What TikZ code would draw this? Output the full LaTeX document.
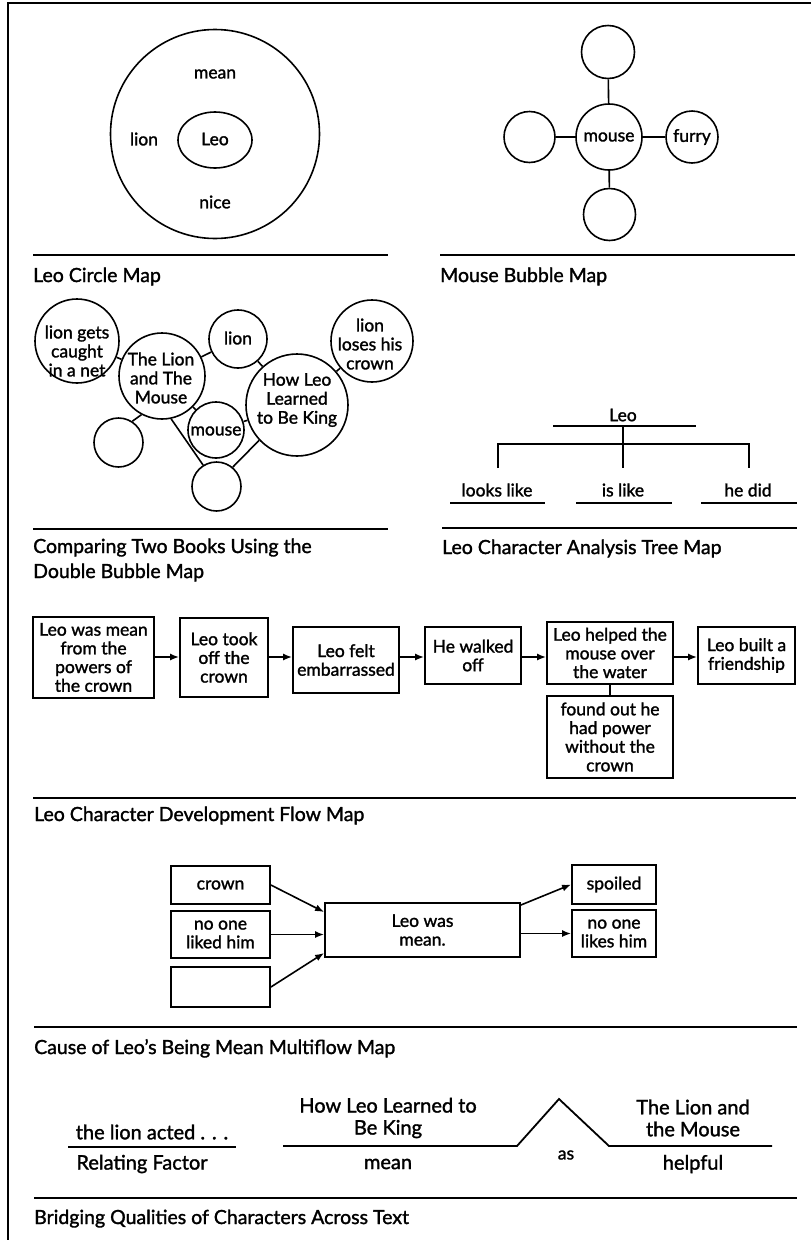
\documentclass[tikz,border=0pt]{standalone}
\usepackage{fontspec}
\setmainfont{Lato}[FakeBold=1.5]
\usetikzlibrary{arrows.meta,shapes.geometric}
\begin{document}
\begin{tikzpicture}[x=1pt,y=-1pt,
  txt/.style={font=\fontsize{17.5}{19}\selectfont, align=center, inner sep=0pt},
  btxt/.style={font=\fontsize{20}{22}\selectfont, align=center, inner sep=0pt},
  ttl/.style={font=\fontsize{19.5}{25}\selectfont, inner sep=0pt, anchor=base west},
  bub/.style={circle, draw, line width=1.6pt, inner sep=0pt},
  fbox/.style={rectangle, draw, line width=1.8pt, inner sep=0pt, align=center, font=\fontsize{17.5}{18.7}\selectfont},
  rule/.style={line width=2.2pt},
  con/.style={line width=1.6pt},
  tline/.style={line width=1.8pt},
  arr/.style={line width=1.6pt, -{Latex[length=9pt,width=7pt]}},
]
\useasboundingbox (0,0) rectangle (811,1240);
% frame
\draw[line width=2.2pt] (8,1240) -- (8,3) -- (811,3);

% ---------- Leo Circle Map ----------
\node[bub, minimum size=209pt] (outer) at (215,134) {};
\node[ellipse, draw, line width=1.6pt, inner sep=0pt, minimum width=74pt, minimum height=56pt] (inner) at (215,140) {};
\node[txt] (leot) at (215,139) {Leo};
\node[txt] (meant) at (215,74) {mean};
\node[txt] (liont) at (144,139) {lion};
\node[txt] (nicet) at (215,202) {nice};
\draw[rule] (33,255) -- (388,255);
\node[ttl] (ttl1) at (33,282) {Leo Circle Map};

% ---------- Mouse Bubble Map ----------
\node[bub, minimum size=66pt] (mouse) at (609,137) {};
\node[txt] (mouset) at (609,137) {mouse};
\node[bub, minimum size=53pt] (mtop) at (608,52) {};
\node[bub, minimum size=52pt] (mbot) at (609.5,214.5) {};
\node[bub, minimum size=51pt] (mleft) at (529.5,137) {};
\node[bub, minimum size=52pt] (furry) at (692,137) {};
\node[txt] (furryt) at (692,137) {furry};
\draw[con] (mouse) -- (mtop);
\draw[con] (mouse) -- (mbot);
\draw[con] (mouse) -- (mleft);
\draw[con] (mouse) -- (furry);
\draw[rule] (440,255) -- (795,255);
\node[ttl] (ttl2) at (440,282) {Mouse Bubble Map};

% ---------- Double Bubble Map ----------
\node[bub, minimum size=84pt] (caught) at (77,341) {};
\node[txt] (caughtt) at (77,351) {lion gets\\caught\\in a net};
\node[bub, minimum size=86pt] (lm) at (162,376) {};
\node[txt] (lmt) at (161,378) {The Lion\\and The\\Mouse};
\node[bub, minimum size=58pt] (lion) at (238,339) {};
\node[txt] (liont2) at (238,338) {lion};
\node[bub, minimum size=82pt] (loses) at (372,341) {};
\node[txt] (losest) at (370,344) {lion\\loses his\\crown};
\node[bub, minimum size=102pt] (how) at (297,405) {};
\node[txt] (howt) at (297,400) {How Leo\\Learned\\to Be King};
\node[bub, minimum size=56pt] (dmouse) at (216,430) {};
\node[txt] (dmouset) at (216,431) {mouse};
\node[bub, minimum size=49pt] (e1) at (118.5,442.5) {};
\node[bub, minimum size=49pt] (e2) at (216.5,486.5) {};
\draw[con] (caught) -- (lm);
\draw[con] (lm) -- (lion);
\draw[con] (lion) -- (how);
\draw[con] (how) -- (loses);
\draw[con] (lm) -- (dmouse);
\draw[con] (dmouse) -- (how);
\draw[con] (lm.-118) -- (e1.57);
\draw[con] (lm.-78) -- (e2.122);
\draw[con] (how.223) -- (e2.50);
\draw[rule] (33,529) -- (388,529);
\node[ttl] (ttl3a) at (33,553) {Comparing Two Books Using the};
\node[ttl] (ttl3b) at (33,578) {Double Bubble Map};

% ---------- Tree Map ----------
\node[txt] (tleo) at (623,415) {Leo};
\coordinate (tl1) at (553,426);
\coordinate (tl2) at (696,426);
\coordinate (tm) at (623,426);
\coordinate (tmb) at (623,468);
\coordinate (tbl) at (498,444);
\coordinate (tbr) at (749,444);
\draw[tline] (tl1) -- (tl2);
\draw[tline] (tm) -- (tmb);
\draw[tline] (498,468) -- (tbl) -- (tbr) -- (749,468);
\node[txt] (tlook) at (497,490) {looks like};
\node[txt] (tis) at (623,490) {is like};
\node[txt] (tdid) at (748,490) {he did};
\draw[tline] (450,503) -- (545,503);
\draw[tline] (576,503) -- (672,503);
\draw[tline] (701,503) -- (797,503);
\draw[rule] (442,528) -- (797,528);
\node[ttl] (ttl4) at (442,554) {Leo Character Analysis Tree Map};

% ---------- Flow Map ----------
\node[fbox, minimum width=121pt, minimum height=81pt] (f1) at (93.5,657.5) {Leo was mean\\from the\\powers of\\the crown};
\node[fbox, minimum width=88pt, minimum height=79pt] (f2) at (224,657.5) {Leo took\\off the\\crown};
\node[fbox, minimum width=106pt, minimum height=66pt] (f3) at (346,660) {Leo felt\\embarrassed};
\node[fbox, minimum width=96pt, minimum height=57pt] (f4) at (473,655.5) {He walked\\off};
\node[fbox, minimum width=126pt, minimum height=62pt] (f5) at (610,653) {Leo helped the\\mouse over\\the water};
\node[fbox, minimum width=97pt, minimum height=57pt] (f6) at (746.5,655.5) {Leo built a\\friendship};
\node[fbox, minimum width=126pt, minimum height=82pt] (f7) at (610,737) {found out he\\had power\\without the\\crown};
\coordinate (fy) at (0,657);
\draw[arr] (f1.east |- fy) -- (f2.west |- fy);
\draw[arr] (f2.east |- fy) -- (f3.west |- fy);
\draw[arr] (f3.east |- fy) -- (f4.west |- fy);
\draw[arr] (f4.east |- fy) -- (f5.west |- fy);
\draw[arr] (f5.east |- fy) -- (f6.west |- fy);
\draw[line width=1.8pt] (f5.south) -- (f7.north);
\draw[rule] (33,798) -- (796,798);
\node[ttl] (ttl5) at (34,821) {Leo Character Development Flow Map};

% ---------- Multiflow Map ----------
\node[fbox, minimum width=99pt, minimum height=38pt] (crown) at (220.5,885) {crown};
\node[fbox, minimum width=99pt, minimum height=47pt] (noone) at (220.5,934.5) {no one\\liked him};
\node[fbox, minimum width=99pt, minimum height=40pt] (empty) at (220.5,987) {};
\node[fbox, minimum width=195pt, minimum height=54pt] (mean) at (422.5,930) {Leo was\\mean.};
\node[fbox, minimum width=84pt, minimum height=39pt] (spoiled) at (614,884.5) {spoiled};
\node[fbox, minimum width=84pt, minimum height=47pt] (likes) at (614,933.5) {no one\\likes him};
\draw[arr] (crown.east) -- ([yshift=18pt]mean.west);
\draw[arr] (noone.east) -- (noone.east -| mean.west);
\draw[arr] (empty.east) -- ([yshift=-23pt]mean.west);
\draw[arr] ([yshift=25pt]mean.east) -- (spoiled.west);
\draw[arr] (likes.west -| mean.east) -- (likes.west);
\draw[rule] (34,1027) -- (797,1027);
\node[ttl] (ttl6) at (34,1054) {Cause of Leo’s Being Mean Multiflow Map};

% ---------- Bridge Map ----------
\node[btxt] (bf) at (152,1132) {the lion acted . . .};
\node[btxt] (brf) at (142,1164) {Relating Factor};
\node[btxt] (bh) at (388,1118) {How Leo Learned to\\Be King};
\node[btxt] (bm) at (388,1164) {mean};
\node[btxt] (bl) at (693,1118) {The Lion and\\the Mouse};
\node[btxt] (bhelp) at (693,1164) {helpful};
\node[txt] (bas) at (566,1155) {as};
\coordinate (ba1) at (283,1146);
\coordinate (ba2) at (517,1146);
\coordinate (bapex) at (559,1099);
\coordinate (ba3) at (609,1146);
\coordinate (ba4) at (772,1146);
\draw[tline] (68,1147) -- (236,1147);
\draw[tline] (ba1) -- (ba2) -- (bapex) -- (ba3) -- (ba4);
\draw[rule] (34,1198) -- (797,1198);
\node[ttl] (ttl7) at (34,1224) {Bridging Qualities of Characters Across Text};
\end{tikzpicture}
\end{document}
